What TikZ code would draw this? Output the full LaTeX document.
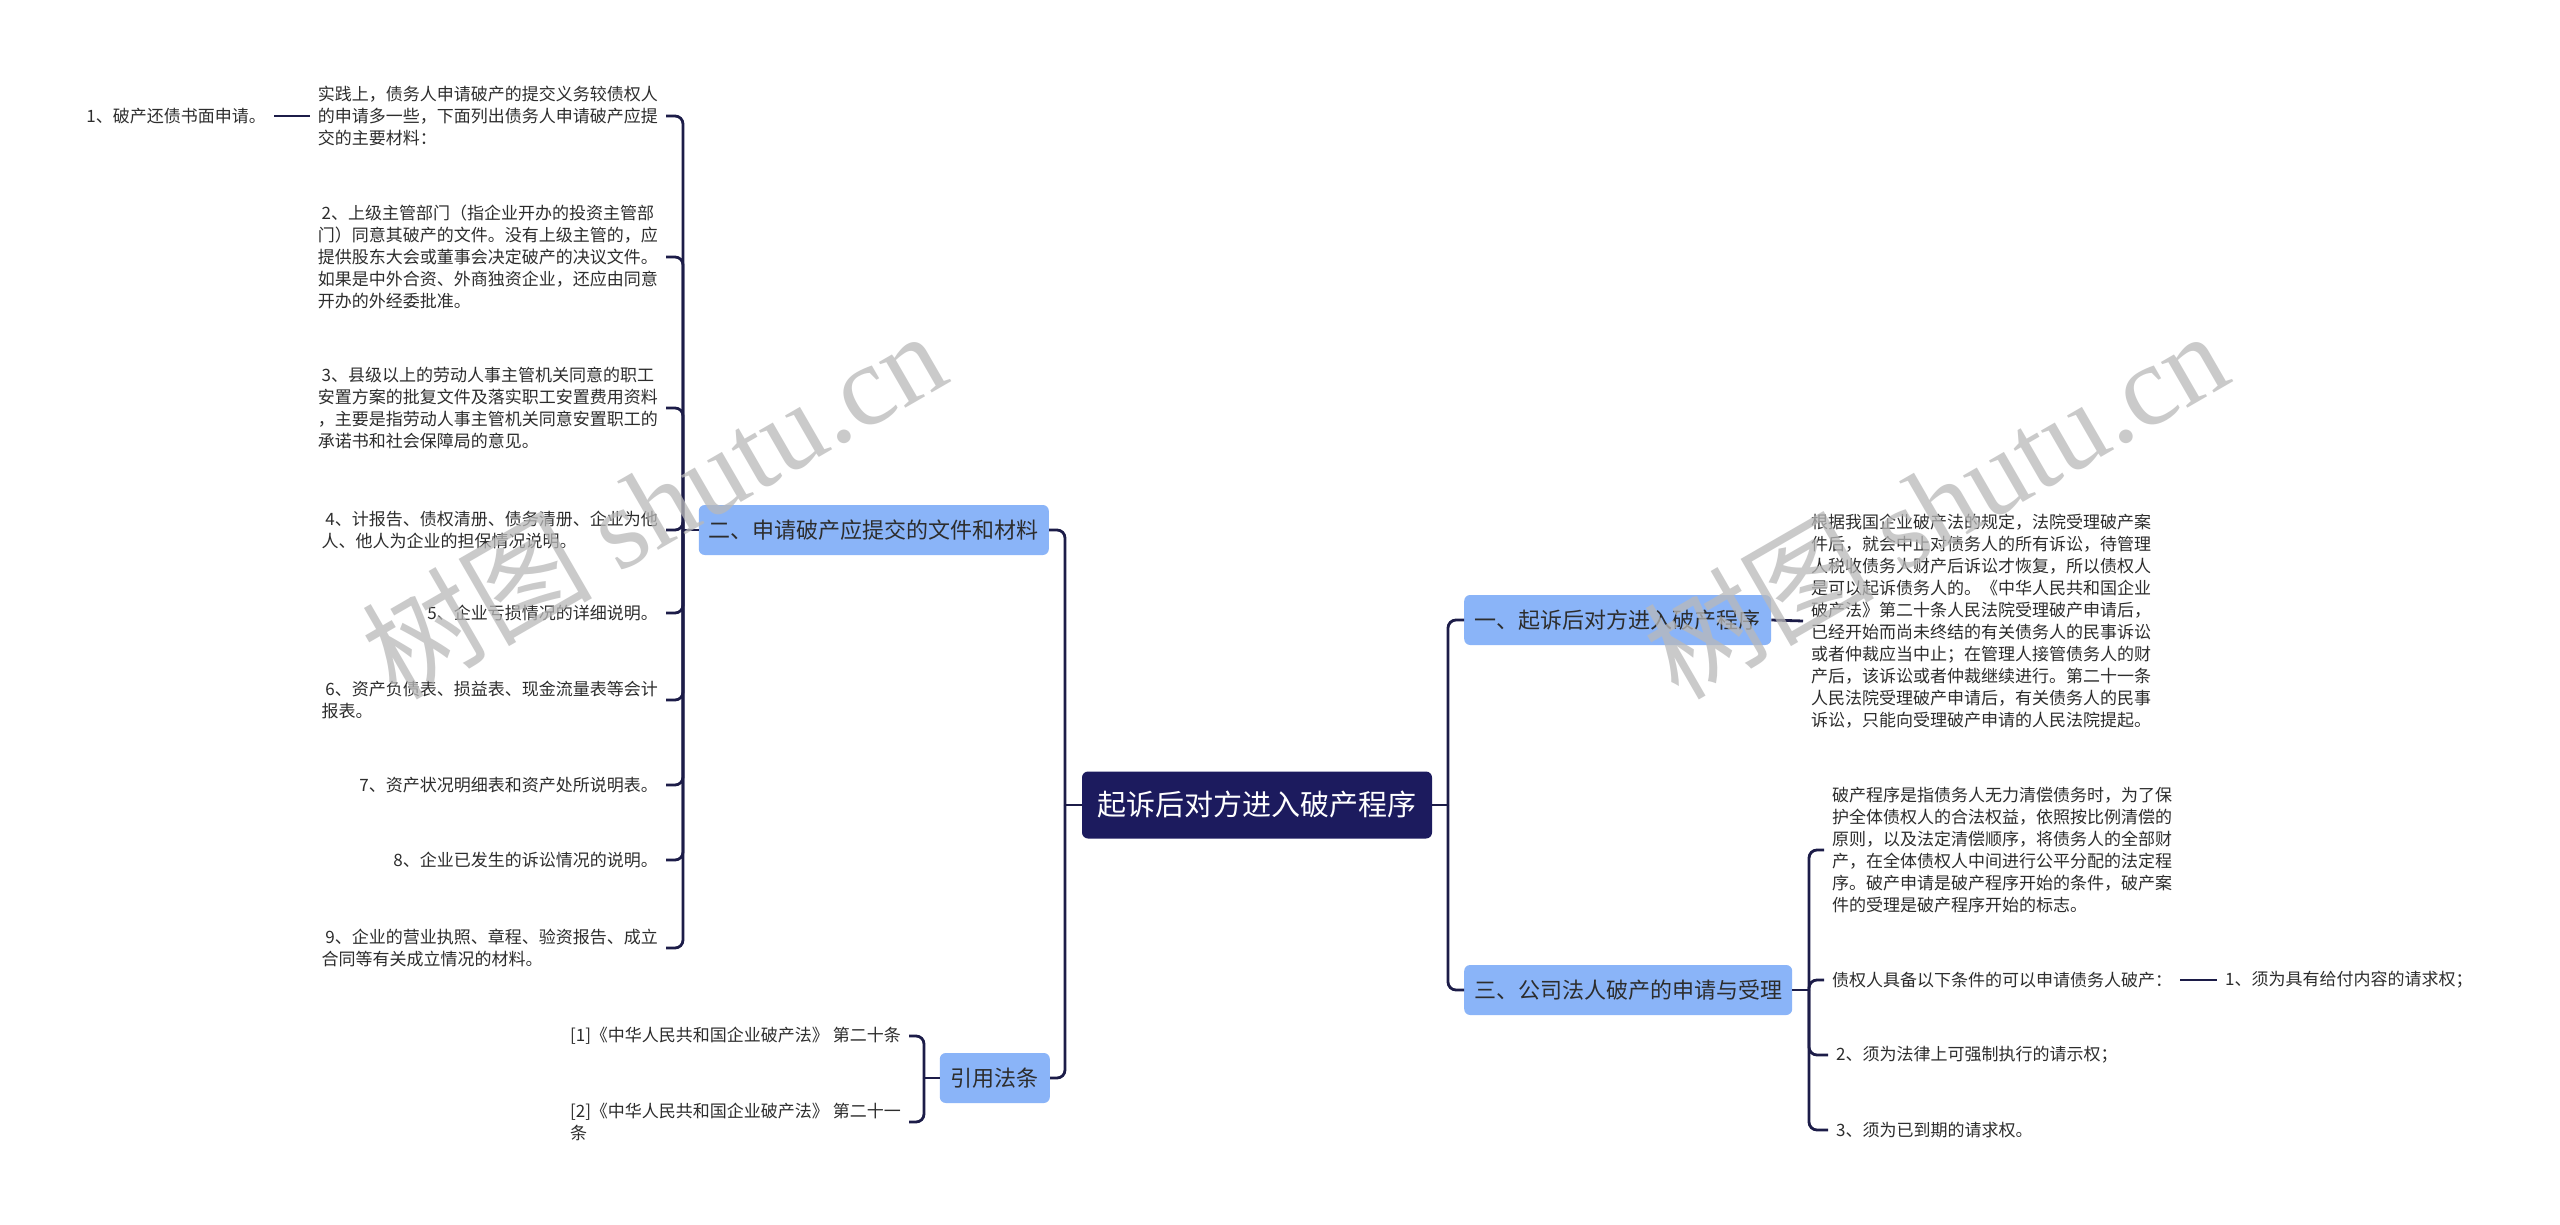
\documentclass[tikz,border=0pt]{standalone}
\usepackage{fontspec}
\setmainfont{Noto Sans CJK SC}
\newfontfamily\wmserif{Liberation Serif}
\definecolor{linec}{RGB}{28,28,72}
\definecolor{boxblue}{RGB}{138,180,248}
\definecolor{rootc}{RGB}{28,27,94}
\definecolor{txt}{RGB}{45,45,45}
\definecolor{wmc}{RGB}{185,185,185}
\begin{document}
\begin{tikzpicture}[x=1pt,y=-1pt,
  conn/.style={draw=linec,line width=2.8pt,rounded corners=8pt},
  leaf/.style={font=\fontsize{17}{22}\selectfont,text=txt,align=left,inner xsep=8pt,inner ysep=3pt},
  lvl/.style={fill=boxblue,rounded corners=6pt,font=\fontsize{22}{26}\selectfont,text=txt,minimum height=50pt,inner xsep=10pt},
  rootbox/.style={fill=rootc,rounded corners=6pt,text=white,font=\fontsize{29}{34}\selectfont,minimum width=350pt,minimum height=67pt},
  wm/.style={text=wmc,opacity=0.75,font=\fontsize{115}{120}\selectfont}]
\useasboundingbox (0,0) rectangle (2560,1225);
\fill[white] (0,0) rectangle (2560,1225);

% main nodes
\node[rootbox] (root) at (1257,805) {起诉后对方进入破产程序};
\node[lvl,anchor=east,minimum width=349pt] (b2) at (1049,530) {二、申请破产应提交的文件和材料};
\node[lvl,anchor=east,minimum width=110pt] (b4) at (1050,1078) {引用法条};
\node[lvl,anchor=west,minimum width=307pt] (b1) at (1464,620) {一、起诉后对方进入破产程序};
\node[lvl,anchor=west,minimum width=328pt] (b3) at (1464,990) {三、公司法人破产的申请与受理};

\coordinate (jL) at (1065,805);
\coordinate (jR) at (1448,805);
\coordinate (j2) at (683,530);
\coordinate (j4) at (924,1078);
\coordinate (j3) at (1809,990);

% left leaves
\node[leaf,anchor=east] (a0) at (666,116) {实践上，债务人申请破产的提交义务较债权人\\的申请多一些，下面列出债务人申请破产应提\\交的主要材料：};
\node[leaf,anchor=east] (a1) at (274,116) {1、破产还债书面申请。};
\node[leaf,anchor=east] (a2) at (666,257) {\ 2、上级主管部门（指企业开办的投资主管部\\门）同意其破产的文件。没有上级主管的，应\\提供股东大会或董事会决定破产的决议文件。\\如果是中外合资、外商独资企业，还应由同意\\开办的外经委批准。};
\node[leaf,anchor=east] (a3) at (666,408) {\ 3、县级以上的劳动人事主管机关同意的职工\\安置方案的批复文件及落实职工安置费用资料\\，主要是指劳动人事主管机关同意安置职工的\\承诺书和社会保障局的意见。};
\node[leaf,anchor=east] (a4) at (666,530) {\ 4、计报告、债权清册、债务清册、企业为他\\人、他人为企业的担保情况说明。};
\node[leaf,anchor=east] (a5) at (666,613) {5、企业亏损情况的详细说明。};
\node[leaf,anchor=east] (a6) at (666,700) {\ 6、资产负债表、损益表、现金流量表等会计\\报表。};
\node[leaf,anchor=east] (a7) at (666,785) {7、资产状况明细表和资产处所说明表。};
\node[leaf,anchor=east] (a8) at (666,860) {8、企业已发生的诉讼情况的说明。};
\node[leaf,anchor=east] (a9) at (666,948) {\ 9、企业的营业执照、章程、验资报告、成立\\合同等有关成立情况的材料。};

% references
\node[leaf,anchor=east] (r1) at (909,1036) {[1]《中华人民共和国企业破产法》 第二十条};
\node[leaf,anchor=east] (r2) at (909,1122) {[2]《中华人民共和国企业破产法》 第二十一\\条};

% right leaves
\node[leaf,anchor=west] (tA) at (1803,621) {根据我国企业破产法的规定，法院受理破产案\\件后，就会中止对债务人的所有诉讼，待管理\\人税收债务人财产后诉讼才恢复，所以债权人\\是可以起诉债务人的。《中华人民共和国企业\\破产法》第二十条人民法院受理破产申请后，\\已经开始而尚未终结的有关债务人的民事诉讼\\或者仲裁应当中止；在管理人接管债务人的财\\产后，该诉讼或者仲裁继续进行。第二十一条\\人民法院受理破产申请后，有关债务人的民事\\诉讼，只能向受理破产申请的人民法院提起。};
\node[leaf,anchor=west] (tB) at (1824,850) {破产程序是指债务人无力清偿债务时，为了保\\护全体债权人的合法权益，依照按比例清偿的\\原则，以及法定清偿顺序，将债务人的全部财\\产，在全体债权人中间进行公平分配的法定程\\序。破产申请是破产程序开始的条件，破产案\\件的受理是破产程序开始的标志。};
\node[leaf,anchor=west] (tC) at (1824,980) {债权人具备以下条件的可以申请债务人破产：};
\node[leaf,anchor=west] (tD) at (2217,980) {1、须为具有给付内容的请求权；};
\node[leaf,anchor=west] (tE) at (1828,1055) {2、须为法律上可强制执行的请示权；};
\node[leaf,anchor=west] (tF) at (1828,1130) {3、须为已到期的请求权。};

% connectors
\draw[conn] (root.west) -- (jL);
\draw[conn] (jL) |- (b2.east);
\draw[conn] (jL) |- (b4.east);
\draw[conn] (root.east) -- (jR);
\draw[conn] (jR) |- (b1.west);
\draw[conn] (jR) |- (b3.west);
\draw[conn] (b2.west) -- (j2);
\foreach \n in {a0,a2,a3,a4,a5,a6,a7,a8,a9} {\draw[conn] (j2) |- (\n.east);}
\draw[conn] (a0.west) -- (a1.east);
\draw[conn] (b4.west) -- (j4);
\draw[conn] (j4) |- (r1.east);
\draw[conn] (j4) |- (r2.east);
\draw[conn] (b1.east) -- (tA.west);
\draw[conn] (b3.east) -- (j3);
\foreach \n in {tB,tC,tE,tF} {\draw[conn] (j3) |- (\n.west);}
\draw[conn] (tC.east) -- (tD.west);

% watermarks
\node[wm,rotate=30] (w1) at (653,503) {树图 {\wmserif shutu.cn}};
\node[wm,rotate=30] (w2) at (1935,503) {树图 {\wmserif shutu.cn}};
\end{tikzpicture}
\end{document}
